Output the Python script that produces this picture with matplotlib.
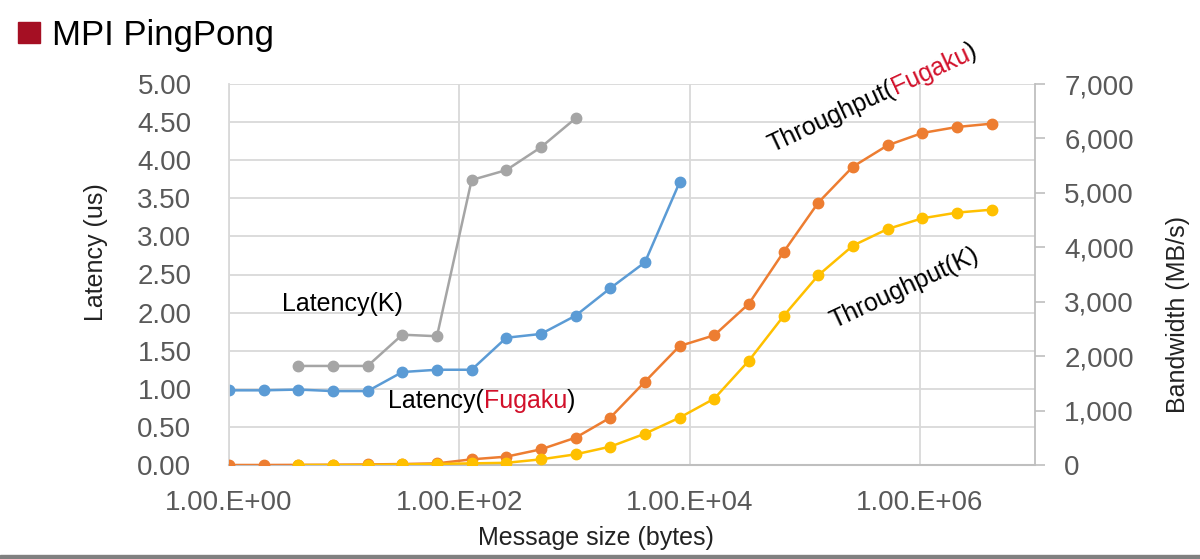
import numpy as np
import matplotlib
matplotlib.use("Agg")
import matplotlib.pyplot as plt
import matplotlib.transforms as mtransforms
from matplotlib.patches import Rectangle
from matplotlib.ticker import FuncFormatter

# message sizes (bytes), powers of two
sizes = [2 ** i for i in range(23)]

lat_fugaku = [0.98, 0.98, 0.99, 0.97, 0.97, 1.22, 1.25, 1.25, 1.67, 1.72,
              1.96, 2.32, 2.66, 3.71]
lat_k = [1.30, 1.30, 1.30, 1.71, 1.69, 3.74, 3.87, 4.17, 4.55]
lat_k_start = 2  # first size index for K (4 bytes)

bw_fugaku = [0, 0, 2, 5, 10, 18, 30, 104, 153, 288, 502, 870, 1530, 2186,
             2383, 2964, 3913, 4820, 5481, 5873, 6100, 6210, 6271]
bw_k = [0, 0, 0, 10, 20, 30, 40, 104, 196, 337, 575, 870, 1219, 1917,
        2738, 3485, 4030, 4336, 4532, 4637, 4691]

x_ticks = [1, 1e2, 1e4, 1e6]
x_ticklabels = ["1.00.E+00", "1.00.E+02", "1.00.E+04", "1.00.E+06"]

c_blue = "#5B9BD5"
c_gray = "#A5A5A5"
c_orange = "#ED7D31"
c_yellow = "#FFC000"
c_red = "#D2102A"
c_grid = "#D9D9D9"
c_tick = "#595959"

tick_font = ["Liberation Sans", "DejaVu Sans"]
text_font = ["Liberation Sans", "DejaVu Sans"]


def multicolor(ax, x, y, parts, angle=0, size=18):
    fig = ax.figure
    fig.canvas.draw()
    r = fig.canvas.get_renderer()
    th = np.deg2rad(angle)
    offset = 0.0
    for s, c in parts:
        tr = mtransforms.offset_copy(ax.transData, fig=fig,
                                     x=offset * np.cos(th), y=offset * np.sin(th),
                                     units="dots")
        ax.text(x, y, s, color=c, fontsize=size, family=text_font,
                rotation=angle, rotation_mode="anchor",
                ha="left", va="baseline", transform=tr, zorder=10)
        tmp = ax.text(0.5, 0.5, s, fontsize=size, family=text_font,
                      transform=ax.transAxes)
        offset += tmp.get_window_extent(r).width
        tmp.remove()


fig = plt.figure(figsize=(12, 5.59), dpi=100)
ax = fig.add_axes([229 / 1200, 1 - 465 / 559, (1035 - 229) / 1200, (465 - 84) / 559])
ax2 = ax.twinx()

ax.set_xscale("log")
ax.set_xlim(1, 1e7)
ax.set_ylim(0, 5)
ax.set_yticks(np.arange(0, 5.01, 0.5))
ax.yaxis.set_major_formatter(FuncFormatter(lambda v, p: "%.2f" % v))
ax.set_xticks(x_ticks)
ax.set_xticklabels(x_ticklabels)
ax.xaxis.set_minor_locator(matplotlib.ticker.NullLocator())
ax.grid(True, color=c_grid, lw=1.3)
ax.set_axisbelow(True)
ax.tick_params(axis="both", length=0, labelsize=20, labelcolor=c_tick)
ax.tick_params(axis="y", pad=27)
ax.tick_params(axis="x", pad=18)
for lab in ax.get_xticklabels() + ax.get_yticklabels():
    lab.set_family(tick_font)

for sp in ["top", "right"]:
    ax.spines[sp].set_visible(False)
ax.spines["left"].set_color(c_grid)
ax.spines["left"].set_linewidth(1.3)
ax.spines["bottom"].set_color("#BFBFBF")
ax.spines["bottom"].set_linewidth(1.5)

ax2.set_ylim(0, 7000)
ax2.set_yticks(np.arange(0, 7001, 1000))
ax2.yaxis.set_major_formatter(FuncFormatter(lambda v, p: "{:,}".format(int(v))))
ax2.tick_params(axis="y", length=7, width=1.2, color="#BFBFBF", pad=14,
                labelsize=20, labelcolor=c_tick)
for lab in ax2.get_yticklabels():
    lab.set_family(tick_font)
for sp in ["top", "left", "bottom"]:
    ax2.spines[sp].set_visible(False)
ax2.spines["right"].set_color("#BFBFBF")
ax2.spines["right"].set_linewidth(1.3)

mk = dict(marker="o", markersize=7.5, lw=1.8)
ax.plot(sizes[lat_k_start:lat_k_start + len(lat_k)], lat_k, color=c_gray, **mk)
ax.plot(sizes[:len(lat_fugaku)], lat_fugaku, color=c_blue, **mk)
ax2.plot(sizes[:len(bw_fugaku)], bw_fugaku, color=c_orange, **mk)
ax2.plot(sizes[2:2 + len(bw_k)], bw_k, color=c_yellow, **mk)

ax.set_ylabel("Latency (us)", fontsize=18, family=text_font, color="#222222")
ax.yaxis.set_label_coords(-0.150, 0.56)
ax.set_xlabel("Message size (bytes)", fontsize=18, family=text_font, color="#222222")
ax.xaxis.set_label_coords(0.455, -0.160)
ax2.set_ylabel("Bandwidth (MB/s)", fontsize=18, family=text_font, color="#222222")
ax2.yaxis.set_label_coords(1.163, 0.396)

multicolor(ax, 2.9, 2.02, [("Latency(K)", "black")], size=18)
multicolor(ax, 24, 0.75, [("Latency(", "black"), ("Fugaku", c_red), (")", "black")], size=18)
multicolor(ax2, 5.2e4, 5750, [("Throughput(", "black"), ("Fugaku", c_red), (")", "black")],
           angle=25, size=18)
multicolor(ax2, 1.8e5, 2517, [("Throughput(K)", "black")], angle=25, size=18)

# title with square marker
fig.patches.append(Rectangle((18 / 1200, 1 - 43 / 559), 22 / 1200, 21 / 559,
                             transform=fig.transFigure, color="#A50F23"))
fig.text(52 / 1200, 1 - 45 / 559, "MPI PingPong", fontsize=25, family=text_font,
         color="black", va="baseline", ha="left")

# frame decoration
fig.patches.append(Rectangle((0, 0), 1, 4 / 559, transform=fig.transFigure,
                             color="#808080"))

fig.savefig("out.png", dpi=100)
